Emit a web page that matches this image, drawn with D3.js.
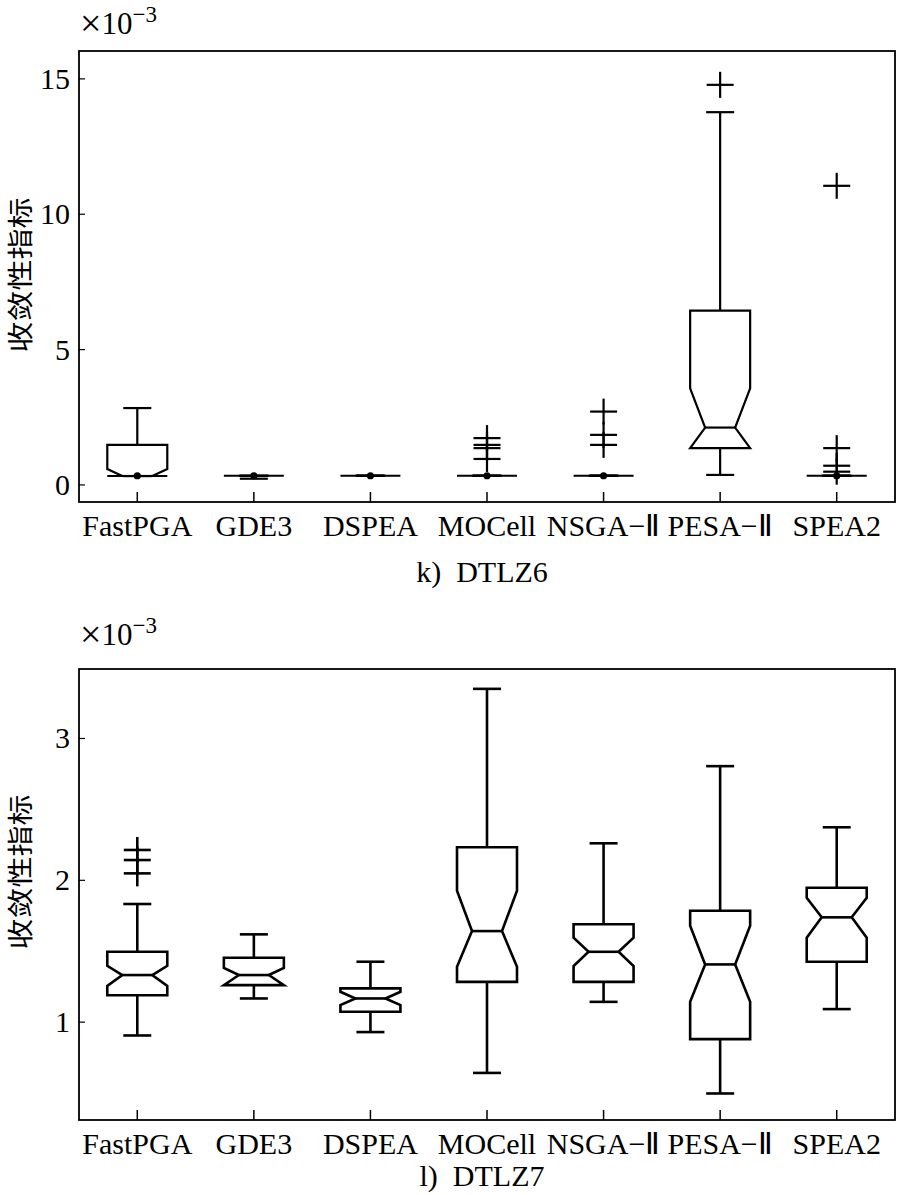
<!DOCTYPE html>
<html>
<head>
<meta charset="utf-8">
<script src="https://cdn.jsdelivr.net/npm/d3@7"></script>
<style>
  body { margin: 0; background: #fff; }
  svg { display: block; }
  text { font-family: "Liberation Serif", "Times New Roman", serif; fill: #000; }
</style>
</head>
<body>
<svg id="chart" width="900" height="1195" viewBox="0 0 900 1195"></svg>
<script>
// categories
const methods = ["FastPGA", "GDE3", "DSPEA", "MOCell", "NSGA\u2212\u2161", "PESA\u2212\u2161", "SPEA2"];

// k) DTLZ6  (values x 1e-3)
const dtlz6WhiskerLo = [0.33, 0.23, 0.34, 0.34, 0.34, 0.37, 0.34];
const dtlz6Q1        = [0.33, 0.34, 0.34, 0.34, 0.34, 1.36, 0.34];
const dtlz6NotchLo   = [0.33, 0.34, 0.34, 0.34, 0.34, 1.36, 0.34];
const dtlz6Median    = [0.33, 0.34, 0.34, 0.34, 0.34, 2.12, 0.34];
const dtlz6NotchHi   = [0.59, 0.34, 0.34, 0.34, 0.34, 3.57, 0.34];
const dtlz6Q3        = [1.48, 0.34, 0.34, 0.34, 0.34, 6.44, 0.34];
const dtlz6WhiskerHi = [2.84, 0.34, 0.34, 0.34, 0.34, 13.77, 0.34];
const dtlz6Outliers  = [[], [], [], [1.73, 1.48, 1.36, 0.96], [2.71, 1.85, 1.48], [14.78], [11.05, 1.36, 0.71, 0.49]];
const dtlz6Dots      = [0.34, 0.34, 0.34, 0.34, 0.34, null, 0.34];
const dtlz6Ticks     = [0, 5, 10, 15];

// l) DTLZ7
const dtlz7WhiskerLo = [0.906, 1.167, 0.93, 0.642, 1.143, 0.497, 1.092];
const dtlz7Q1        = [1.19, 1.261, 1.073, 1.284, 1.284, 0.88, 1.426];
const dtlz7NotchLo   = [1.256, 1.261, 1.12, 1.39, 1.395, 1.143, 1.595];
const dtlz7Median    = [1.332, 1.332, 1.167, 1.642, 1.496, 1.407, 1.739];
const dtlz7NotchHi   = [1.397, 1.383, 1.214, 1.927, 1.595, 1.68, 1.877];
const dtlz7Q3        = [1.496, 1.454, 1.238, 2.233, 1.69, 1.785, 1.948];
const dtlz7WhiskerHi = [1.833, 1.619, 1.426, 3.35, 2.261, 2.805, 2.374];
const dtlz7Outliers  = [[2.214, 2.143, 2.049], [], [], [], [], [], []];
const dtlz7Dots      = [null, null, null, null, null, null, null];
const dtlz7Ticks     = [1, 2, 3];

const svg = d3.select("#chart");

function drawPanel(p) {
    let g = svg.append("g");

    let x = d3.scalePoint()
        .domain(methods)
        .range([p.left, p.right])
        .padding(0.5);
    let y = d3.scaleLinear()
        .domain(p.domain)
        .range([p.bottom, p.top]);

    let boxes = methods.map(function(m, i) {
        return {
            name: m,
            wlo: p.wlo[i], q1: p.q1[i], nlo: p.nlo[i], med: p.med[i],
            nhi: p.nhi[i], q3: p.q3[i], whi: p.whi[i],
            out: p.out[i], dot: p.dots[i]
        };
    });

    const hw = 30, nw = 15, cw = 14, mk = 13.5;

    let box = g.selectAll("g.box")
        .data(boxes)
        .enter()
        .append("g")
        .attr("class", "box")
        .attr("transform", function(d) { return "translate(" + x(d.name) + ",0)"; })
        .style("stroke", "#000")
        .style("stroke-width", p.lw)
        .style("fill", "none");

    // whiskers
    box.append("line")
        .attr("y1", function(d) { return y(d.q3); })
        .attr("y2", function(d) { return y(d.whi); });
    box.append("line")
        .attr("y1", function(d) { return y(d.q1); })
        .attr("y2", function(d) { return y(d.wlo); });
    box.append("line")
        .attr("x1", -cw).attr("x2", cw)
        .attr("y1", function(d) { return y(d.whi); })
        .attr("y2", function(d) { return y(d.whi); });
    box.append("line")
        .attr("x1", -cw).attr("x2", cw)
        .attr("y1", function(d) { return y(d.wlo); })
        .attr("y2", function(d) { return y(d.wlo); });

    // notched box
    box.append("path")
        .style("fill", "#fff")
        .style("stroke-linejoin", "miter")
        .attr("d", function(d) {
            let pts = [
                [-hw, y(d.q3)], [hw, y(d.q3)], [hw, y(d.nhi)], [nw, y(d.med)],
                [hw, y(d.nlo)], [hw, y(d.q1)], [-hw, y(d.q1)], [-hw, y(d.nlo)],
                [-nw, y(d.med)], [-hw, y(d.nhi)]
            ];
            return "M" + pts.join("L") + "Z";
        });
    box.append("line")
        .attr("x1", -nw).attr("x2", nw)
        .attr("y1", function(d) { return y(d.med); })
        .attr("y2", function(d) { return y(d.med); });

    // outliers as "+"
    box.each(function(d) {
        let s = d3.select(this);
        d.out.forEach(function(v) {
            s.append("line").attr("x1", -mk).attr("x2", mk)
                .attr("y1", y(v)).attr("y2", y(v));
            s.append("line").attr("x1", 0).attr("x2", 0)
                .attr("y1", y(v) - 13).attr("y2", y(v) + 13);
        });
        if (d.dot !== null) {
            s.append("circle")
                .attr("cy", y(d.dot))
                .attr("r", 3.6)
                .style("fill", "#000")
                .style("stroke", "none");
        }
    });

    // frame
    g.append("rect")
        .attr("x", p.left).attr("y", p.top)
        .attr("width", p.right - p.left).attr("height", p.bottom - p.top)
        .style("fill", "none")
        .style("stroke", "#000")
        .style("stroke-width", 1.8);

    // y ticks
    let yt = g.selectAll("g.ytick")
        .data(p.ticks)
        .enter()
        .append("g")
        .attr("transform", function(d) { return "translate(0," + y(d) + ")"; });
    yt.append("line")
        .attr("x1", p.left).attr("x2", p.left + 6)
        .style("stroke", "#000").style("stroke-width", 1.2);
    yt.append("text")
        .attr("x", p.left - 9)
        .attr("y", 10)
        .attr("text-anchor", "end")
        .style("font-size", "30px")
        .text(function(d) { return d; });

    // x ticks and labels
    let xt = g.selectAll("g.xtick")
        .data(methods)
        .enter()
        .append("g")
        .attr("transform", function(d) { return "translate(" + x(d) + ",0)"; });
    xt.append("line")
        .attr("y1", p.bottom).attr("y2", p.bottom - 10)
        .style("stroke", "#000").style("stroke-width", 1.5);
    xt.append("text")
        .attr("y", p.bottom + 34)
        .attr("text-anchor", "middle")
        .style("font-size", "30px")
        .text(function(d) { return d; });

    // exponent
    let ex = g.append("text")
        .attr("x", 80)
        .attr("y", p.top - p.expOff)
        .style("font-size", "31px");
    ex.append("tspan").style("font-size", "38px").attr("dy", 2).text("\u00d7");
    ex.append("tspan").attr("dy", -2).text("10");
    ex.append("tspan").attr("dy", -12).style("font-size", "23px").text("\u22123");

    // y label
    g.append("text")
        .attr("transform", "translate(30," + p.ylabelY + ") rotate(-90) scale(1,0.85)")
        .attr("text-anchor", "middle")
        .style("font-family", "'Noto Sans CJK SC', sans-serif")
        .style("font-size", "31px")
        .text("收敛性指标");

    // subtitle
    g.append("text")
        .attr("x", 482)
        .attr("y", p.titleY)
        .attr("text-anchor", "middle")
        .attr("xml:space", "preserve")
        .style("font-size", "30px")
        .text(p.title);
}

drawPanel({
    left: 79, right: 895, top: 51, bottom: 502,
    domain: [-0.63, 16.03], ticks: dtlz6Ticks, lw: 2.2,
    wlo: dtlz6WhiskerLo, q1: dtlz6Q1, nlo: dtlz6NotchLo, med: dtlz6Median,
    nhi: dtlz6NotchHi, q3: dtlz6Q3, whi: dtlz6WhiskerHi,
    out: dtlz6Outliers, dots: dtlz6Dots,
    ylabelY: 275, title: "k)  DTLZ6", titleY: 582, expOff: 17
});

drawPanel({
    left: 79, right: 895, top: 669, bottom: 1120,
    domain: [0.31, 3.49], ticks: dtlz7Ticks, lw: 2.6,
    wlo: dtlz7WhiskerLo, q1: dtlz7Q1, nlo: dtlz7NotchLo, med: dtlz7Median,
    nhi: dtlz7NotchHi, q3: dtlz7Q3, whi: dtlz7WhiskerHi,
    out: dtlz7Outliers, dots: dtlz7Dots,
    ylabelY: 872, title: "l)  DTLZ7", titleY: 1186, expOff: 24
});
</script>
</body>
</html>
